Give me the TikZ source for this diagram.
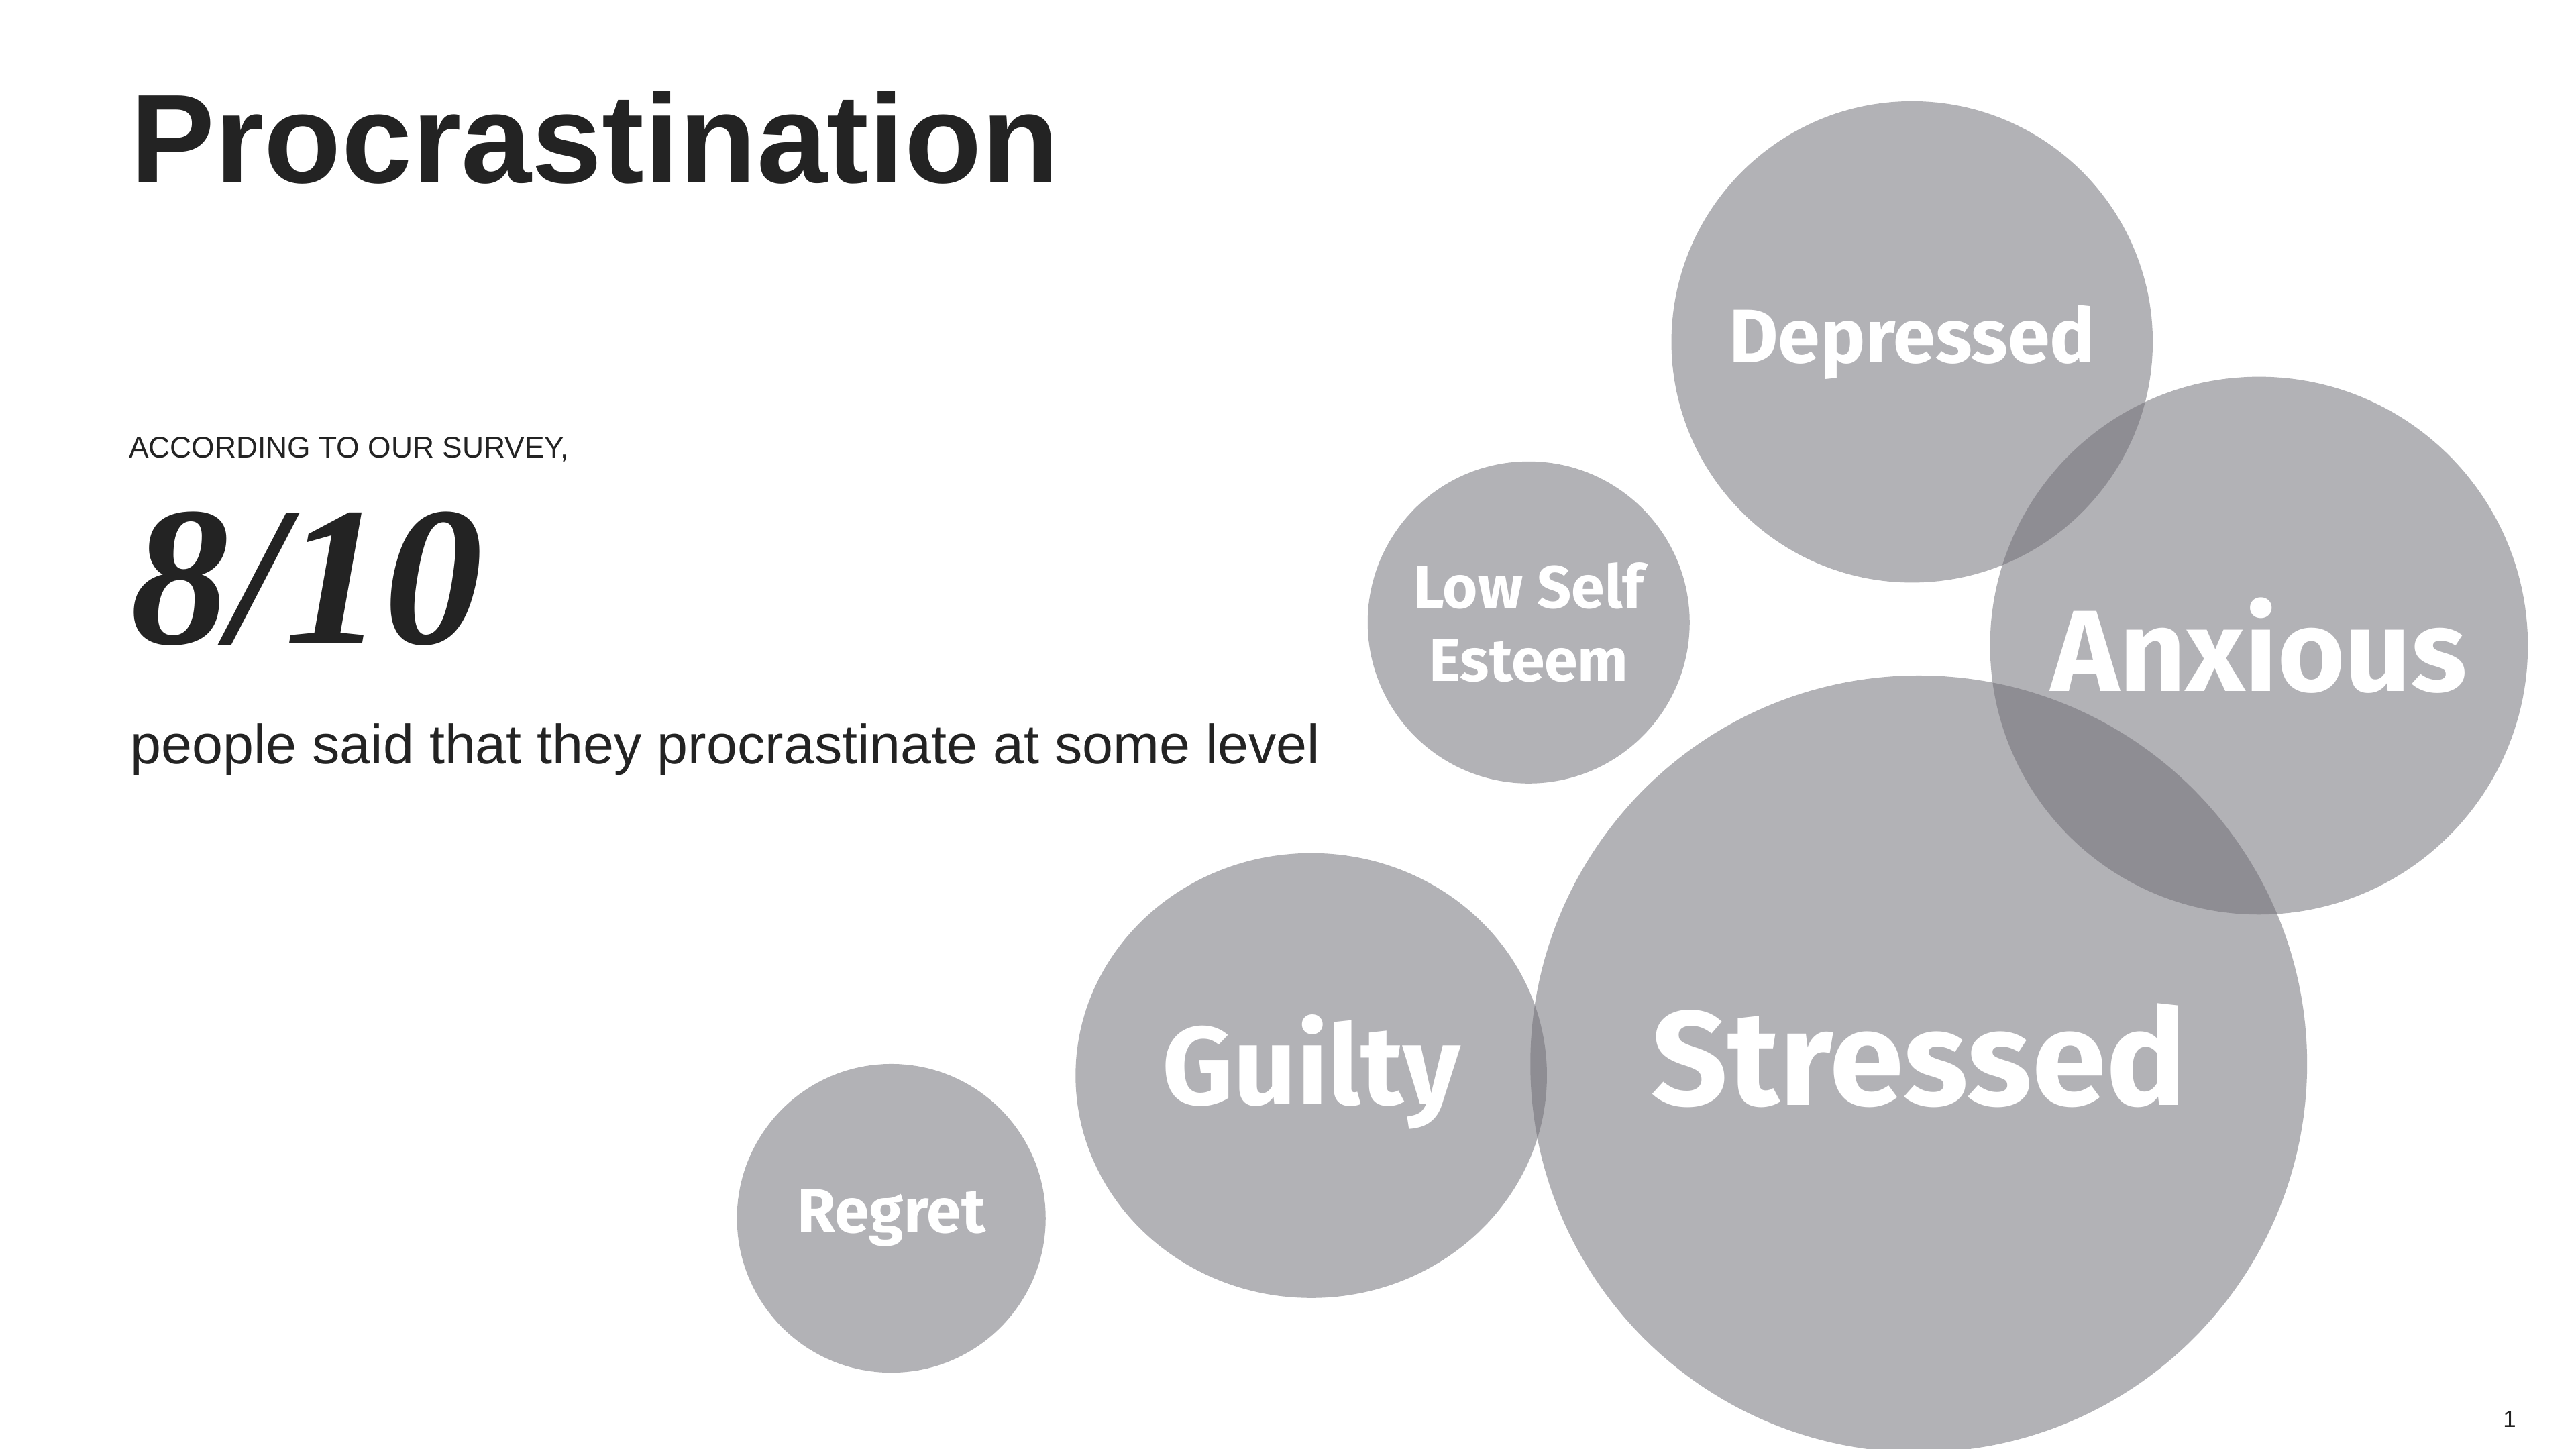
\documentclass[tikz,border=0pt]{standalone}
\usepackage{fontspec}
\setmainfont{Liberation Sans}
\newfontfamily\labelfont{Fira Sans}
\newfontfamily\numfont{Liberation Serif}
\usetikzlibrary{shapes.geometric}
\definecolor{bubble}{RGB}{110,109,117}
\definecolor{ink}{RGB}{35,35,35}
\tikzset{
  bubblenode/.style={circle, fill=bubble, fill opacity=0.53, text opacity=1, text=white, inner sep=0pt, align=center, font=\labelfont\bfseries},
}
\begin{document}
\begin{tikzpicture}[x=1cm,y=-1cm]
\useasboundingbox (0,0) rectangle (15.52,8.73);

% bubbles
\node[bubblenode, minimum size=2.90cm, font=\labelfont\bfseries\fontsize{13}{15}\selectfont] (depressed) at (11.52,2.06) {Depressed};
\node[bubblenode, minimum size=1.94cm, font=\labelfont\bfseries\fontsize{10.3}{12.5}\selectfont] (esteem) at (9.21,3.75) {Low Self\\Esteem};
\node[bubblenode, minimum size=3.24cm, font=\labelfont\bfseries\fontsize{19.8}{22}\selectfont] (anxious) at (13.61,3.89) {Anxious};
\node[bubblenode, minimum size=4.68cm, font=\labelfont\bfseries\fontsize{23}{26}\selectfont] (stressed) at (11.56,6.41) {};
\node[ellipse, fill=bubble, fill opacity=0.53, minimum width=2.84cm, minimum height=2.68cm, inner sep=0pt] (guilty) at (7.90,6.48) {};
\node[bubblenode, minimum size=1.86cm, font=\labelfont\bfseries\fontsize{10.7}{13}\selectfont] (regret) at (5.37,7.34) {Regret};

% labels over the overlaps
\node[text=white, font=\labelfont\bfseries\fontsize{23}{26}\selectfont] (stressedtext) at (11.56,6.36) {Stressed};
\node[text=white, font=\labelfont\bfseries\fontsize{19}{22}\selectfont] (guiltytext) at (7.90,6.46) {Guilty};

% text
\node[anchor=base west, inner sep=0pt, text=ink, font=\bfseries\fontsize{21.7}{24}\selectfont] (title) at (0.78,1.10) {Procrastination};
\node[anchor=base west, inner sep=0pt, text=ink, font=\fontsize{5.1}{6}\selectfont] (survey) at (0.77,2.76) {ACCORDING TO OUR SURVEY,};
\node[anchor=base west, inner sep=0pt, text=ink, font=\numfont\bfseries\itshape\fontsize{34}{36}\selectfont] (ratio) at (0.78,3.88) {8/10};
\node[anchor=base west, inner sep=0pt, text=ink, font=\fontsize{9.5}{11}\selectfont] (people) at (0.78,4.60) {people said that they procrastinate at some level};
\node[inner sep=0pt, text=ink, font=\fontsize{4}{5}\selectfont] (page) at (15.12,8.55) {1};

\end{tikzpicture}
\end{document}
